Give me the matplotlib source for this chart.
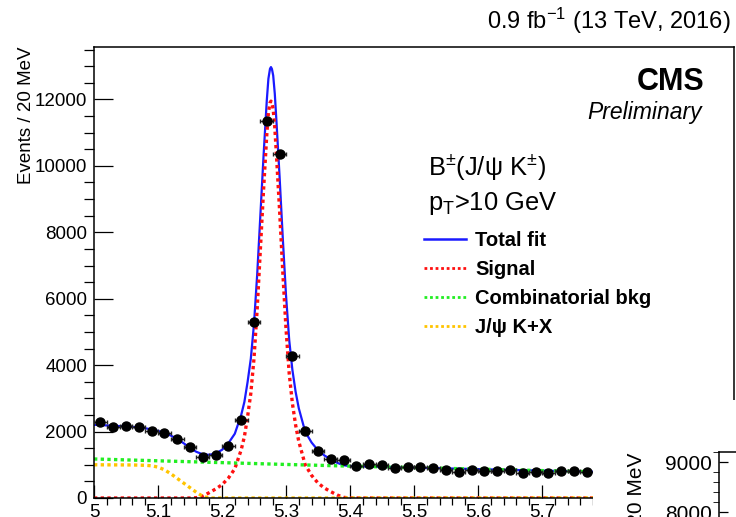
import numpy as np
import matplotlib
matplotlib.use("Agg")
import matplotlib.pyplot as plt
from matplotlib.ticker import MultipleLocator, FixedLocator, FixedFormatter
from matplotlib.patches import Rectangle

plt.rcParams['font.family'] = ['Liberation Sans', 'DejaVu Sans']
plt.rcParams['mathtext.fontset'] = 'custom'
plt.rcParams['mathtext.rm'] = 'Liberation Sans'
plt.rcParams['mathtext.it'] = 'Liberation Sans:italic'
plt.rcParams['mathtext.bf'] = 'Liberation Sans:bold'

# data points (bin centres, 20 MeV bins)
mass = [5.01, 5.03, 5.05, 5.07, 5.09, 5.11, 5.13, 5.15, 5.17, 5.19,
        5.21, 5.23, 5.25, 5.27, 5.29, 5.31, 5.33, 5.35, 5.37, 5.39,
        5.41, 5.43, 5.45, 5.47, 5.49, 5.51, 5.53, 5.55, 5.57, 5.59,
        5.61, 5.63, 5.65, 5.67, 5.69, 5.71, 5.73, 5.75, 5.77]
events = [2277, 2127, 2157, 2139, 2018, 1958, 1777, 1524, 1235, 1283,
          1554, 2337, 5285, 11350, 10370, 4280, 2003, 1404, 1184, 1133,
          964, 1015, 990, 892, 928, 938, 895, 852, 797, 852,
          818, 827, 837, 762, 783, 747, 827, 803, 782]
bin_half = 0.01

# total fit
tot_x = [5.00, 5.02, 5.04, 5.06, 5.08, 5.09, 5.10, 5.11, 5.12, 5.13,
         5.14, 5.15, 5.16, 5.17, 5.18, 5.19, 5.20, 5.21, 5.22, 5.23,
         5.235, 5.24, 5.245, 5.25, 5.255, 5.26, 5.265, 5.27, 5.2725, 5.275,
         5.2765, 5.278, 5.28, 5.2825, 5.285, 5.29, 5.295, 5.30, 5.305, 5.31,
         5.315, 5.32, 5.33, 5.34, 5.35, 5.36, 5.37, 5.38, 5.39, 5.40,
         5.45, 5.50, 5.55, 5.60, 5.65, 5.70, 5.75, 5.78]
tot_y = [2205, 2185, 2165, 2140, 2100, 2065, 2020, 1960, 1880, 1780,
         1650, 1510, 1390, 1315, 1300, 1340, 1450, 1650, 1935, 2500,
         2895, 3495, 4190, 5240, 6735, 8530, 10330, 11975, 12625, 12925,
         12975, 12920, 12720, 12170, 11370, 9665, 7815, 6110, 4755, 3855,
         3200, 2700, 1995, 1670, 1435, 1280, 1165, 1060, 985, 960,
         937, 915, 892, 870, 847, 825, 803, 790]

# signal
sig_x = [5.00, 5.15, 5.16, 5.17, 5.18, 5.19, 5.20, 5.21, 5.22, 5.23,
         5.235, 5.24, 5.245, 5.25, 5.255, 5.26, 5.265, 5.27, 5.2725, 5.275,
         5.2765, 5.278, 5.28, 5.2825, 5.285, 5.29, 5.295, 5.30, 5.305, 5.31,
         5.315, 5.32, 5.33, 5.34, 5.35, 5.36, 5.37, 5.38, 5.39, 5.40, 5.78]
sig_y = [0, 0, 10, 60, 160, 270, 400, 600, 880, 1450,
         1850, 2450, 3150, 4200, 5700, 7500, 9300, 10950, 11600, 11900,
         11950, 11900, 11700, 11150, 10350, 8650, 6800, 5100, 3750, 2850,
         2200, 1700, 1000, 680, 450, 300, 190, 90, 20, 0, 0]

# combinatorial background
comb_x = [5.0, 5.1, 5.2, 5.3, 5.4, 5.5, 5.6, 5.7, 5.78]
comb_y = [1175, 1120, 1065, 1010, 960, 915, 870, 825, 790]

# J/psi K + X
jkx_x = [5.00, 5.06, 5.08, 5.09, 5.10, 5.11, 5.12, 5.13, 5.14, 5.15, 5.16, 5.17, 5.18, 5.78]
jkx_y = [1000, 995, 985, 970, 930, 850, 730, 590, 450, 310, 170, 50, 0, 0]

xticks = [5.0, 5.1, 5.2, 5.3, 5.4, 5.5, 5.6, 5.7, 5.8, 5.9, 6.0]
xtick_labels = ['5', '5.1', '5.2', '5.3', '5.4', '5.5', '5.6', '5.7', '5.8', '5.9', '6']
yticks = [0, 2000, 4000, 6000, 8000, 10000, 12000]

W, H = 736, 517
fig = plt.figure(figsize=(W / 100, H / 100), dpi=100)
ax = fig.add_axes([94 / W, 19 / H, 640 / W, 451 / H])

dot = (0, (1, 1))
l_tot, = ax.plot(tot_x, tot_y, color='#1a1aff', lw=1.6, label='Total fit')
l_sig, = ax.plot(sig_x, sig_y, color='#ff1010', lw=2.4, ls=dot, label='Signal')
l_comb, = ax.plot(comb_x, comb_y, color='#22ee22', lw=2.4, ls=dot, label='Combinatorial bkg')
l_jkx, = ax.plot(jkx_x, jkx_y, color='#ffc400', lw=2.4, ls=dot, label='J/ψ K+X')
ax.errorbar(mass, events, xerr=bin_half, fmt='o', color='black', ecolor='#222222',
            ms=6.5, elinewidth=1, capsize=1.5, capthick=1, zorder=5)

ax.set_xlim(5.0, 6.0)
ax.set_ylim(0, 13580)
ax.xaxis.set_major_locator(FixedLocator(xticks))
ax.xaxis.set_major_formatter(FixedFormatter(xtick_labels))
ax.xaxis.set_minor_locator(MultipleLocator(0.02))
ax.set_yticks(yticks)
ax.yaxis.set_minor_locator(MultipleLocator(500))
ax.tick_params(axis='both', direction='in', labelsize=13.5, width=0.9)
ax.tick_params(axis='y', which='major', length=13.5, pad=5)
ax.tick_params(axis='y', which='minor', length=7, width=0.9)
ax.tick_params(axis='x', which='major', length=9.5, pad=4.5)
ax.tick_params(axis='x', which='minor', length=4.8, width=0.9)
for s in ax.spines.values():
    s.set_linewidth(1.1)
ax.set_ylabel('Events / 20 MeV', loc='top', fontsize=13.5, labelpad=0)

leg = ax.legend(handles=[l_tot, l_sig, l_comb, l_jkx], loc='upper left',
                bbox_to_anchor=(424 / W, 1 - 231 / H), bbox_transform=fig.transFigure,
                frameon=False, prop={'weight': 'bold', 'size': 14.5}, handlelength=2.1,
                handletextpad=0.45, labelspacing=0.49, borderpad=0, borderaxespad=0)
for ln in leg.get_lines():
    ln.set_linewidth(2.0 if ln.get_linestyle() != '-' else 1.8)

fig.text(731 / W, 1 - 29 / H, '0.9 fb$^{-1}$ (13 TeV, 2016)', ha='right', va='baseline', fontsize=17)
fig.text(705 / W, 1 - 90 / H, 'CMS', ha='right', va='baseline', fontsize=22, weight='bold')
fig.text(702 / W, 1 - 119 / H, 'Preliminary', ha='right', va='baseline', fontsize=16.5, style='italic')
fig.text(428 / W, 1 - 175 / H, 'B$^{\\pm}$(J/ψ K$^{\\pm}$)', ha='left', va='baseline', fontsize=18.4)
fig.text(428 / W, 1 - 210 / H, 'p$_{\\mathrm{T}}$>10 GeV', ha='left', va='baseline', fontsize=18.4)

# neighbouring panel peeking in at the bottom right
fig.add_artist(Rectangle((593 / W, 0), 0.3, (H - 400) / H, transform=fig.transFigure,
                         facecolor='white', edgecolor='none', zorder=1))
ax2 = fig.add_axes([719.3 / W, (H - 652.3) / H, 0.2, 200 / H], zorder=2)
ax2.set_ylim(5200, 9200)
ax2.set_xlim(0, 1)
ax2.set_yticks([8000, 9000])
ax2.yaxis.set_minor_locator(MultipleLocator(200))
ax2.set_xticks([])
ax2.tick_params(axis='y', direction='in', labelsize=15, pad=5, width=0.9, length=6.5)
ax2.tick_params(axis='y', which='minor', length=4)
for s in ax2.spines.values():
    s.set_linewidth(1.1)
ax2.set_ylabel('Events / 20 MeV', loc='top', fontsize=15, labelpad=14)

fig.savefig('out.png', dpi=100)
